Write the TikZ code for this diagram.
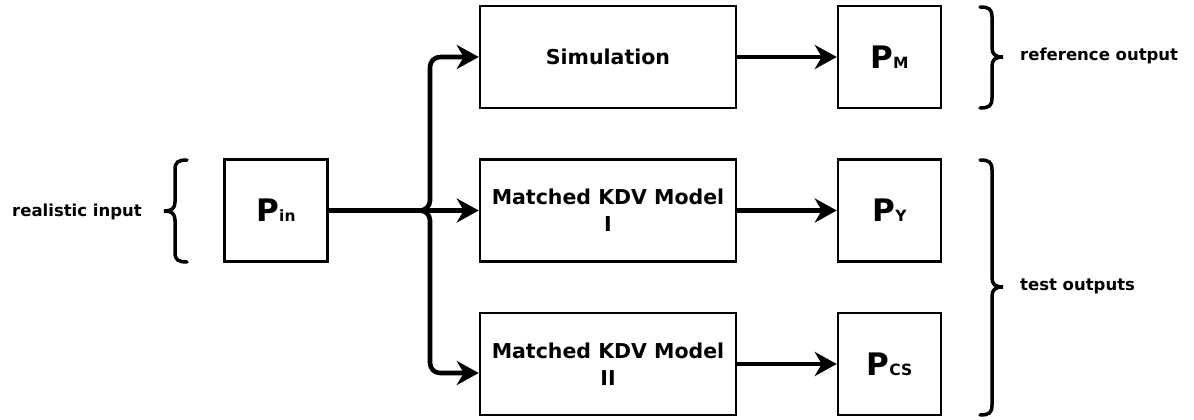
\documentclass[tikz,border=0pt]{standalone}
\usepackage{fontspec}
\setmainfont{DejaVu Sans}
\usetikzlibrary{arrows.meta,calc}
\tikzset{
  box/.style={draw, line width=2.5pt, inner sep=0pt, align=center, font=\fontsize{20.5}{27}\selectfont\bfseries},
  bigbox/.style={box, minimum width=256pt, minimum height=102pt},
  pbox/.style={box, minimum width=103pt, minimum height=102pt},
  conn/.style={line width=4.6pt, -{Stealth[length=22pt,width=24pt,inset=7pt]}},
  bracestyle/.style={line width=3.5pt, line cap=round},
  side/.style={font=\fontsize{16.5}{20}\selectfont\bfseries, inner sep=0pt}
}
\newcommand{\Pbig}[1]{{\fontsize{31}{31}\selectfont P}{\fontsize{15.5}{15.5}\selectfont #1}}
\begin{document}
\begin{tikzpicture}[x=1pt,y=-1pt]
\useasboundingbox (0,0) rectangle (1194,420);
% nodes
\node[pbox] (pin) at (276,210.5) {\Pbig{in}};
\node[bigbox] (sim) at (608,57) {Simulation};
\node[bigbox] (kdv1) at (608,210.5) {Matched KDV Model\\I};
\node[bigbox] (kdv2) at (608,364) {Matched KDV Model\\II};
\node[pbox] (pm) at (889.5,57) {\Pbig{M}};
\node[pbox] (py) at (889.5,210.5) {\Pbig{Y}};
\node[pbox] (pcs) at (889.5,364) {\Pbig{CS}};
% side labels
\node[side] (lin) at (77,212) {realistic input};
\node[side, anchor=west] (lref) at (1020,56) {reference output};
\node[side, anchor=west] (ltest) at (1020,286) {test outputs};
% connectors
\coordinate (br) at (430,210.5);
\coordinate (k2in) at ($(kdv2.west)+(0,9)$);
\draw[conn, rounded corners=10pt] (pin.east) -- (br) |- (sim.west);
\draw[conn, rounded corners=10pt] (pin.east) -- (br) |- (k2in);
\draw[conn] (pin.east) -- (kdv1.west);
\draw[conn] (sim.east) -- (pm.west);
\draw[conn] (kdv1.east) -- (py.west);
\draw[conn] (kdv2.east) -- (pcs.west);
% braces
\draw[bracestyle] (187,160) .. controls (178,160) and (175,162) .. (175,170) -- (175,202)
  .. controls (175,208) and (172,211) .. (164,211)
  .. controls (172,211) and (175,214) .. (175,220) -- (175,252)
  .. controls (175,260) and (178,262) .. (187,262);
\draw[bracestyle] (980,7) .. controls (989,7) and (992,9) .. (992,17) -- (992,48)
  .. controls (992,54) and (995,57) .. (1003,57)
  .. controls (995,57) and (992,60) .. (992,66) -- (992,98)
  .. controls (992,106) and (989,108) .. (980,108);
\draw[bracestyle] (980,160) .. controls (989,160) and (992,162) .. (992,170) -- (992,278)
  .. controls (992,284) and (995,287) .. (1003,287)
  .. controls (995,287) and (992,290) .. (992,296) -- (992,405)
  .. controls (992,413) and (989,415) .. (980,415);
\end{tikzpicture}
\end{document}
